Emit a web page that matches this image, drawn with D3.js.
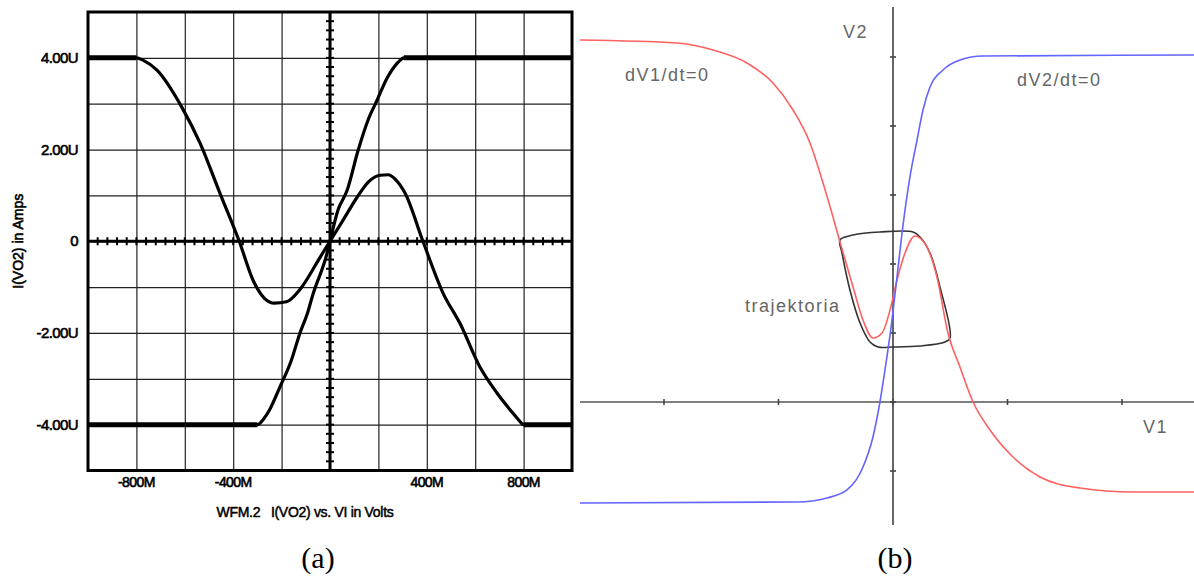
<!DOCTYPE html>
<html>
<head>
<meta charset="utf-8">
<script src="https://cdn.jsdelivr.net/npm/d3@7"></script>
<style>
  body { margin: 0; background: #fff; }
  svg { display: block; }
</style>
</head>
<body>
<svg id="chart"></svg>
<script>
// panel (a): I(VO2) vs VI, x in mV ("M"), y in uA ("U")
const humpCurve = [
  [-1000, 4], [-800, 4], [-773, 3.95], [-715, 3.73], [-612, 2.92], [-537, 2.14],
  [-455, 1.05], [-375, 0], [-318, -0.85], [-270, -1.25], [-230, -1.35], [-180, -1.32],
  [-124, -1.05], [-41, -0.35], [0, 0], [54, 0.46], [112, 0.96], [160, 1.3],
  [207, 1.44], [240, 1.45], [270, 1.35], [310, 1.05], [384, 0], [467, -1.13],
  [537, -1.79], [620, -2.75], [690, -3.31], [756, -3.75], [780, -3.9], [800, -4], [1000, -4]
];
const steepCurve = [
  [-1000, -4], [-300, -4], [-275, -3.88], [-250, -3.68], [-207, -3.18], [-160, -2.6],
  [-124, -2.0], [-95, -1.6], [-70, -1.15], [-12, -0.26], [0, 0], [33, 0.68], [70, 1.1],
  [116, 1.98], [157, 2.64], [194, 3.07], [235, 3.55], [277, 3.88], [295, 3.97], [305, 4],
  [1000, 4]
];
const gridX = [-800, -600, -400, -200, 0, 200, 400, 600, 800];
const gridY = [-4, -3, -2, -1, 0, 1, 2, 3, 4];
const aTicksX = [-800, -400, 400, 800];
const aTickLabelsX = ["-800M", "-400M", "400M", "800M"];
const aTicksY = [4, 2, 0, -2, -4];
const aTickLabelsY = ["4.00U", "2.00U", "0", "-2.00U", "-4.00U"];

// panel (b): phase plane V1 / V2
const nullclineV1 = [
  [-2.734, 5.246], [-1.886, 5.203], [-1.572, 5.101], [-1.275, 4.913], [-1.048, 4.623],
  [-0.873, 4.232], [-0.725, 3.754], [-0.611, 3.174], [-0.524, 2.681], [-0.463, 2.319],
  [-0.349, 1.667], [-0.262, 1.188], [-0.175, 0.928], [-0.096, 1.0], [-0.026, 1.333],
  [0.035, 1.768], [0.105, 2.159], [0.192, 2.406], [0.297, 2.246], [0.384, 1.812],
  [0.480, 1.0], [0.585, 0.507], [0.699, 0], [0.847, -0.406], [1.048, -0.797],
  [1.284, -1.087], [1.633, -1.246], [2.096, -1.304], [2.629, -1.304]
];
const nullclineV2 = [
  [-2.734, -1.464], [-0.838, -1.449], [-0.576, -1.391], [-0.402, -1.275], [-0.262, -0.942],
  [-0.175, -0.507], [-0.114, 0], [-0.070, 0.464], [-0.009, 1.188], [0.035, 1.812],
  [0.079, 2.449], [0.148, 3.261], [0.210, 3.797], [0.262, 4.232], [0.323, 4.565],
  [0.437, 4.812], [0.585, 4.957], [0.786, 5.014], [2.629, 5.029]
];
const trajectory = [
  [-0.463, 2.348], [-0.349, 2.420], [-0.114, 2.464], [0.175, 2.464], [0.236, 2.391],
  [0.323, 2.159], [0.410, 1.667], [0.498, 0.928], [0.454, 0.870], [0.236, 0.812],
  [0, 0.797], [-0.131, 0.797], [-0.201, 0.870], [-0.288, 1.145], [-0.376, 1.623],
  [-0.445, 2.159]
];
const bTicksX = [-2, -1, 0, 1, 2];
const bTicksY = [-1, 0, 1, 2, 3, 4, 5];

const width = 1194;
const height = 578;

const svg = d3.select("#chart")
              .attr("width", width)
              .attr("height", height);

svg.append("rect")
   .attr("width", width)
   .attr("height", height)
   .attr("fill", "#fff");

/* ---------- panel (a) ---------- */
const xA = d3.scaleLinear().domain([-1000, 1000]).range([88, 572]);
const yA = d3.scaleLinear().domain([-5, 5]).range([470.5, 12]);
const plotW = xA(1000) - xA(-1000);
const plotH = yA(-5) - yA(5);

const gA = svg.append("g");

// grid
gA.append("g")
  .attr("transform", "translate(0," + yA(-5) + ")")
  .call(d3.axisBottom(xA).tickValues(gridX).tickSize(-plotH).tickFormat(""))
  .call(g => g.select(".domain").remove())
  .call(g => g.selectAll("line").attr("stroke", "#222").attr("stroke-width", 1.2));

gA.append("g")
  .attr("transform", "translate(" + xA(-1000) + ",0)")
  .call(d3.axisLeft(yA).tickValues(gridY).tickSize(-plotW).tickFormat(""))
  .call(g => g.select(".domain").remove())
  .call(g => g.selectAll("line").attr("stroke", "#222").attr("stroke-width", 1.2));

// frame
gA.append("rect")
  .attr("x", xA(-1000))
  .attr("y", yA(5))
  .attr("width", plotW)
  .attr("height", plotH)
  .attr("fill", "none")
  .attr("stroke", "#000")
  .attr("stroke-width", 3);

// zero axes with minor ticks
gA.append("line")
  .attr("x1", xA(-1000)).attr("x2", xA(1000))
  .attr("y1", yA(0)).attr("y2", yA(0))
  .attr("stroke", "#000").attr("stroke-width", 3);
gA.append("line")
  .attr("x1", xA(0)).attr("x2", xA(0))
  .attr("y1", yA(5)).attr("y2", yA(-5))
  .attr("stroke", "#000").attr("stroke-width", 3);

gA.append("g")
  .selectAll("line")
  .data(d3.range(-960, 1000, 40))
  .enter()
  .append("line")
  .attr("x1", d => xA(d)).attr("x2", d => xA(d))
  .attr("y1", yA(0) - 4).attr("y2", yA(0) + 4)
  .attr("stroke", "#000").attr("stroke-width", 2);

gA.append("g")
  .selectAll("line")
  .data(d3.range(-4.8, 5, 0.2))
  .enter()
  .append("line")
  .attr("x1", xA(0) - 4).attr("x2", xA(0) + 4)
  .attr("y1", d => yA(d)).attr("y2", d => yA(d))
  .attr("stroke", "#000").attr("stroke-width", 2);

// curves
const lineA = d3.line()
                .x(d => xA(d[0]))
                .y(d => yA(d[1]))
                .curve(d3.curveMonotoneX);

[humpCurve, steepCurve].forEach(data => {
  gA.append("path")
    .attr("d", lineA(data))
    .attr("fill", "none")
    .attr("stroke", "#000")
    .attr("stroke-width", 3.2)
    .attr("stroke-linejoin", "round");

  // saturated parts are drawn heavier
  const runs = [];
  for (let i = 1; i < data.length; i++) {
    if (data[i][1] === data[i - 1][1] && Math.abs(data[i][1]) === 4) {
      runs.push([data[i - 1], data[i]]);
    }
  }
  runs.forEach(r => {
    gA.append("path")
      .attr("d", d3.line().x(d => xA(d[0])).y(d => yA(d[1]))(r))
      .attr("stroke", "#000")
      .attr("stroke-width", 5);
  });
});

// tick labels
const aFont = "'Liberation Sans', Arial, sans-serif";

gA.append("g")
  .selectAll("text")
  .data(aTicksX)
  .enter()
  .append("text")
  .attr("x", d => xA(d))
  .attr("y", 487)
  .attr("text-anchor", "middle")
  .style("font-family", aFont)
  .style("font-size", "14px")
  .style("letter-spacing", "-0.6px")
  .attr("stroke", "#000").attr("stroke-width", 0.6)
  .text((d, i) => aTickLabelsX[i]);

gA.append("g")
  .selectAll("text")
  .data(aTicksY)
  .enter()
  .append("text")
  .attr("x", 78)
  .attr("y", d => yA(d) + 5)
  .attr("text-anchor", "end")
  .style("font-family", aFont)
  .style("font-size", "15px")
  .style("letter-spacing", "-0.6px")
  .attr("stroke", "#000").attr("stroke-width", 0.6)
  .text((d, i) => aTickLabelsY[i]);

gA.append("text")
  .attr("x", 305)
  .attr("y", 517)
  .attr("text-anchor", "middle")
  .style("font-family", aFont)
  .style("font-size", "14px")
  .style("letter-spacing", "-0.3px")
  .style("white-space", "pre")
  .attr("stroke", "#000").attr("stroke-width", 0.5)
  .text("WFM.2   I(VO2) vs. VI in Volts");

gA.append("text")
  .attr("transform", "translate(23," + yA(0) + ") rotate(-90)")
  .attr("text-anchor", "middle")
  .style("font-family", aFont)
  .style("font-size", "14px")
  .attr("stroke", "#000").attr("stroke-width", 0.6)
  .text("I(VO2) in Amps");

/* ---------- panel (b) ---------- */
const xB = d3.scaleLinear().domain([0, 1]).range([893, 1007.5]);
const yB = d3.scaleLinear().domain([0, 1]).range([402, 333]);
const gB = svg.append("g");

gB.append("line")
  .attr("x1", 580).attr("x2", 1194)
  .attr("y1", yB(0)).attr("y2", yB(0))
  .attr("stroke", "#555").attr("stroke-width", 1.6);
gB.append("line")
  .attr("x1", xB(0)).attr("x2", xB(0))
  .attr("y1", 7).attr("y2", 525)
  .attr("stroke", "#555").attr("stroke-width", 1.8);

gB.append("g")
  .selectAll("line")
  .data(bTicksX)
  .enter()
  .append("line")
  .attr("x1", d => xB(d)).attr("x2", d => xB(d))
  .attr("y1", yB(0) - 3).attr("y2", yB(0) + 3)
  .attr("stroke", "#444").attr("stroke-width", 1.6);

gB.append("g")
  .selectAll("line")
  .data(bTicksY)
  .enter()
  .append("line")
  .attr("x1", xB(0) - 3).attr("x2", xB(0) + 3)
  .attr("y1", d => yB(d)).attr("y2", d => yB(d))
  .attr("stroke", "#444").attr("stroke-width", 1.6);

const lineB = d3.line()
                .x(d => xB(d[0]))
                .y(d => yB(d[1]))
                .curve(d3.curveMonotoneX);

gB.append("path")
  .attr("d", d3.line().x(d => xB(d[0])).y(d => yB(d[1])).curve(d3.curveCatmullRomClosed.alpha(0.5))(trajectory))
  .attr("fill", "none")
  .attr("stroke", "#333")
  .attr("stroke-width", 1.6);

gB.append("path")
  .attr("d", lineB(nullclineV1))
  .attr("fill", "none")
  .attr("stroke", "#ff6060")
  .attr("stroke-width", 1.6);

gB.append("path")
  .attr("d", lineB(nullclineV2))
  .attr("fill", "none")
  .attr("stroke", "#6464ff")
  .attr("stroke-width", 1.6);

const bLabels = [
  {text: "V2", x: 843, y: 38},
  {text: "dV1/dt=0", x: 625, y: 81},
  {text: "dV2/dt=0", x: 1017, y: 86},
  {text: "trajektoria", x: 745, y: 312},
  {text: "V1", x: 1143, y: 433}
];

gB.append("g")
  .selectAll("text")
  .data(bLabels)
  .enter()
  .append("text")
  .attr("x", d => d.x)
  .attr("y", d => d.y)
  .style("font-family", aFont)
  .style("font-size", "18px")
  .style("letter-spacing", "1.5px")
  .attr("fill", "#666")
  .text(d => d.text);

// captions
svg.append("text")
   .attr("x", 318)
   .attr("y", 568)
   .attr("text-anchor", "middle")
   .style("font-family", "'Liberation Serif', 'Times New Roman', serif")
   .style("font-size", "30px")
   .text("(a)");

svg.append("text")
   .attr("x", 895)
   .attr("y", 568)
   .attr("text-anchor", "middle")
   .style("font-family", "'Liberation Serif', 'Times New Roman', serif")
   .style("font-size", "30px")
   .text("(b)");
</script>
</body>
</html>
